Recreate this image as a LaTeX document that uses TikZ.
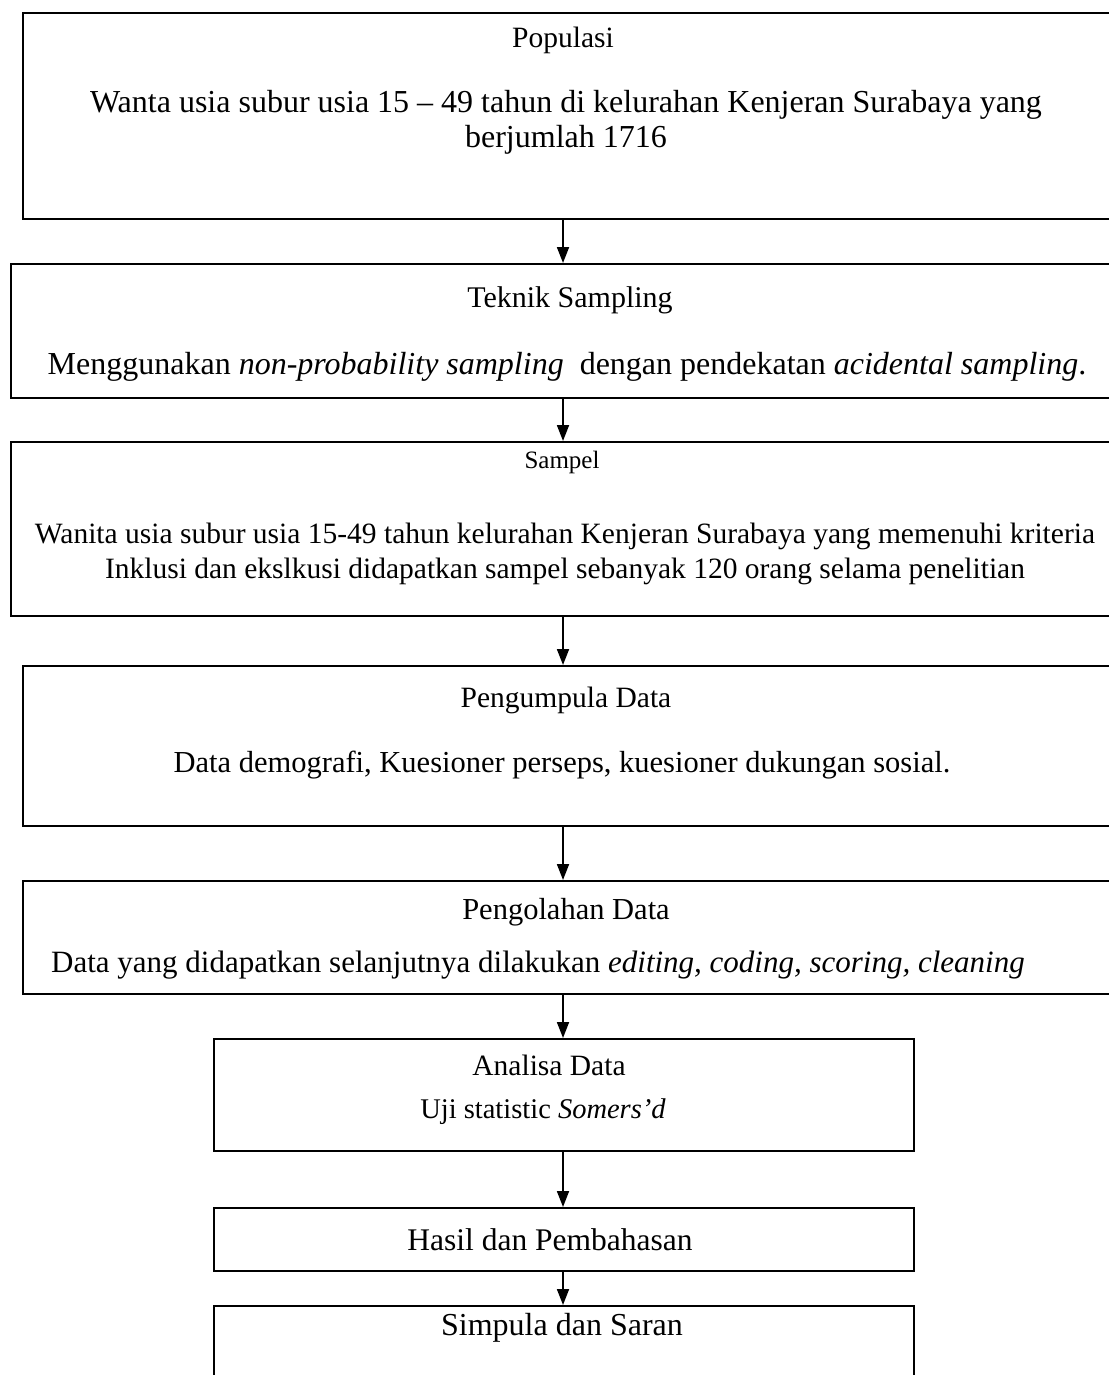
\documentclass[tikz,border=0pt]{standalone}
\usepackage{fontspec}
\setmainfont{Liberation Serif}
\usetikzlibrary{arrows.meta}
\begin{document}
\begin{tikzpicture}[x=1pt,y=-1pt,
  box/.style={draw,line width=1.8pt,inner sep=0pt,anchor=north west},
  txt/.style={align=center,inner sep=0pt},
  fs/.style={font=\fontsize{#1}{35}\selectfont},
  conn/.style={line width=1.8pt,-{Triangle[width=12pt,length=16pt]}}]
\useasboundingbox (0,0) rectangle (1108,1375);
\fill[white] (0,0) rectangle (1108,1375);
\coordinate (ax) at (563,0);
% boxes
\node[box,minimum width=1120pt,minimum height=206pt] (b1) at (22,12) {};
\node[box,minimum width=1130pt,minimum height=134pt] (b2) at (10,263) {};
\node[box,minimum width=1130pt,minimum height=174pt] (b3) at (10,441) {};
\node[box,minimum width=1120pt,minimum height=160pt] (b4) at (22,665) {};
\node[box,minimum width=1120pt,minimum height=113pt] (b5) at (22,880) {};
\node[box,minimum width=700pt,minimum height=112pt] (b6) at (213,1038) {};
\node[box,minimum width=700pt,minimum height=63pt] (b7) at (213,1207) {};
\node[box,minimum width=700pt,minimum height=120pt] (b8) at (213,1305) {};
% texts
\node[txt,fs=29.5] (t1a) at (563,40) {Populasi};
\node[txt,fs=32] (t1b) at (566,122) {Wanta usia subur usia 15 – 49 tahun di kelurahan Kenjeran Surabaya yang\\berjumlah 1716};
\node[txt,fs=30] (t2a) at (570,300) {Teknik Sampling};
\node[txt,fs=32] (t2b) at (567,367) {Menggunakan \textit{non-probability sampling}\ \ dengan pendekatan \textit{acidental sampling}.};
\node[txt,fs=25] (t3a) at (562,462) {Sampel};
\node[txt,fs=29.5] (t3b) at (565,554) {Wanita usia subur usia 15-49 tahun kelurahan Kenjeran Surabaya yang memenuhi kriteria\\Inklusi dan ekslkusi didapatkan sampel sebanyak 120 orang selama penelitian};
\node[txt,fs=29.5] (t4a) at (566,700) {Pengumpula Data};
\node[txt,fs=30.5] (t4b) at (562,765) {Data demografi, Kuesioner perseps, kuesioner dukungan sosial.};
\node[txt,fs=30.5] (t5a) at (566,912) {Pengolahan Data};
\node[txt,fs=31] (t5b) at (538,965) {Data yang didapatkan selanjutnya dilakukan \textit{editing, coding, scoring, cleaning}};
\node[txt,fs=29.5] (t6a) at (549,1065) {Analisa Data};
\node[txt,fs=28.5] (t6b) at (543,1112) {Uji statistic \textit{Somers’d}};
\node[txt,fs=31.5] (t7) at (550,1240) {Hasil dan Pembahasan};
\node[txt,fs=32] (t8) at (562,1328) {Simpula dan Saran};
% connectors
\draw[conn] (b1.south -| ax) -- (b2.north -| ax);
\draw[conn] (b2.south -| ax) -- (b3.north -| ax);
\draw[conn] (b3.south -| ax) -- (b4.north -| ax);
\draw[conn] (b4.south -| ax) -- (b5.north -| ax);
\draw[conn] (b5.south -| ax) -- (b6.north -| ax);
\draw[conn] (b6.south -| ax) -- (b7.north -| ax);
\draw[conn] (b7.south -| ax) -- (b8.north -| ax);
\end{tikzpicture}
\end{document}
